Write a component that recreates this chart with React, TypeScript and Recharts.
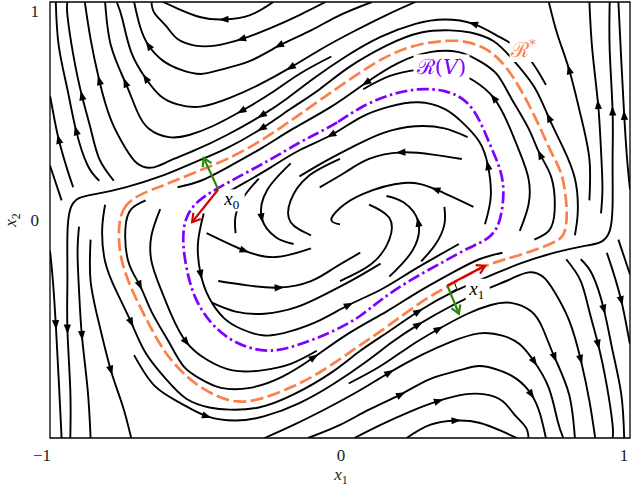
import React from 'react'
import { LineChart, Line, XAxis, YAxis, ReferenceArea, ReferenceDot } from 'recharts'

type Pt = [number, number]

const SERIF = '"Liberation Serif", "DejaVu Serif", serif'
const MATH = '"DejaVu Serif", "Liberation Serif", serif'
const ORANGE = '#fb8049'
const PURPLE = '#8000ff'
const RED = '#d40000'
const GREEN = '#2b8a0e'

const W = 632
const H = 486
const PLOT_W = 580
const PLOT_H = 436

const X_TICKS = [-1, 0, 1]
const Y_TICKS = [0, 1]

// boundary of R* and of the level set R(V)
const R_STAR: Pt[] = [[-0.655,0.138],[-0.748,0.078],[-0.766,-0.032],[-0.759,-0.183],[-0.714,-0.335],[-0.666,-0.459],[-0.621,-0.573],[-0.576,-0.656],[-0.507,-0.748],[-0.424,-0.812],[-0.355,-0.839],[-0.276,-0.826],[-0.162,-0.766],[-0.069,-0.702],[0.045,-0.596],[0.162,-0.491],[0.286,-0.367],[0.369,-0.307],[0.493,-0.211],[0.562,-0.183],[0.655,-0.147],[0.734,-0.106],[0.776,-0.078],[0.786,0.032],[0.769,0.216],[0.734,0.289],[0.690,0.427],[0.631,0.583],[0.576,0.702],[0.517,0.780],[0.448,0.817],[0.390,0.826],[0.276,0.812],[0.162,0.757],[0.045,0.656],[-0.069,0.550],[-0.170,0.455],[-0.266,0.367],[-0.390,0.275],[-0.507,0.216],[-0.621,0.151]]
const R_V: Pt[] = [[-0.069,0.404],[-0.010,0.445],[0.069,0.518],[0.162,0.573],[0.266,0.606],[0.369,0.596],[0.438,0.550],[0.483,0.459],[0.517,0.344],[0.552,0.243],[0.569,0.138],[0.552,-0.032],[0.507,-0.092],[0.448,-0.124],[0.369,-0.183],[0.241,-0.275],[0.138,-0.367],[0.069,-0.445],[0.000,-0.495],[-0.069,-0.537],[-0.162,-0.583],[-0.241,-0.606],[-0.321,-0.587],[-0.390,-0.541],[-0.448,-0.472],[-0.500,-0.367],[-0.528,-0.243],[-0.545,-0.092],[-0.534,0.014],[-0.493,0.092],[-0.390,0.170],[-0.241,0.275],[-0.138,0.358]]

// the two marked states and their vectors
const X0: Pt = [-0.42, 0.14]
const X0_RED: Pt = [-0.51, -0.01]
const X0_GREEN: Pt = [-0.47, 0.285]
const X1: Pt = [0.37, -0.30]
const X1_RED: Pt = [0.50, -0.21]
const X1_GREEN: Pt = [0.41, -0.43]
const X1_CORNER: Pt[] = [[0.393,-0.282],[0.403,-0.316],[0.379,-0.333]]

// label anchors
const LBL_RSTAR: Pt = [0.64, 0.78]
const LBL_RV: Pt = [0.35, 0.70]
const LBL_X0: Pt = [-0.37, 0.09]
const LBL_X1: Pt = [0.475, -0.32]

// streamlines, each listed in the direction of the flow
const A2: Pt[] = [[-0.23,1.0],[-0.31,0.94],[-0.40,0.92],[-0.48,0.93],[-0.56,0.97],[-0.61,1.0]]
const A3: Pt[] = [[-0.05,1.0],[-0.14,0.94],[-0.24,0.88],[-0.34,0.83],[-0.43,0.80],[-0.50,0.80],[-0.56,0.83],[-0.60,0.89],[-0.64,0.95],[-0.65,1.0]]
const A4: Pt[] = [[0.11,1.0],[0,0.94],[-0.10,0.87],[-0.21,0.80],[-0.31,0.73],[-0.41,0.69],[-0.48,0.67],[-0.55,0.69],[-0.61,0.73],[-0.66,0.80],[-0.69,0.89],[-0.71,1.0]]
const A5: Pt[] = [[0.26,1.0],[0.16,0.94],[0.04,0.86],[-0.07,0.78],[-0.17,0.70],[-0.28,0.62],[-0.38,0.56],[-0.48,0.52],[-0.56,0.53],[-0.62,0.57],[-0.67,0.65],[-0.72,0.77],[-0.75,0.92],[-0.77,1.0]]
const A6: Pt[] = [[-0.03,0.75],[-0.14,0.67],[-0.24,0.58],[-0.34,0.50],[-0.44,0.43],[-0.52,0.39],[-0.59,0.38],[-0.66,0.42],[-0.70,0.50],[-0.74,0.63],[-0.79,0.80],[-0.81,1.0]]
const W2: Pt[] = [[0.71,0.62],[0.64,0.76],[0.55,0.84],[0.46,0.90],[0.36,0.92],[0.26,0.90],[0.14,0.84],[0.02,0.75],[-0.09,0.65],[-0.18,0.56],[-0.27,0.48],[-0.39,0.39],[-0.50,0.32],[-0.59,0.27],[-0.65,0.24],[-0.70,0.26],[-0.74,0.33],[-0.79,0.46],[-0.83,0.64],[-0.86,0.83],[-0.88,1.0]]
const W1: Pt[] = [[0.81,-0.07],[0.82,0.04],[0.81,0.19],[0.77,0.33],[0.72,0.47],[0.67,0.61],[0.60,0.73],[0.53,0.82],[0.45,0.86],[0.38,0.87],[0.28,0.86],[0.16,0.80],[0.03,0.70],[-0.07,0.60],[-0.17,0.51],[-0.27,0.42],[-0.39,0.33],[-0.51,0.26],[-0.62,0.20],[-0.74,0.15],[-0.84,0.12],[-0.90,0.10],[-0.93,0.05],[-0.94,-0.07],[-0.94,-0.28],[-0.94,-0.50],[-0.93,-0.78],[-0.93,-1.0]]
const L0: Pt[] = [[-0.78,0.18],[-0.83,0.28],[-0.86,0.42],[-0.89,0.57],[-0.92,0.76],[-0.94,0.94],[-0.94,1.0]]
const L1: Pt[] = [[-0.83,0.18],[-0.87,0.25],[-0.91,0.41],[-0.94,0.60],[-0.97,0.80],[-0.98,1.0]]
const L2: Pt[] = [[-0.92,0.15],[-0.94,0.23],[-0.97,0.37],[-0.99,0.50],[-1.0,0.57]]
const L3: Pt[] = [[-0.96,0.09],[-0.98,0.17],[-1.0,0.25]]
const L4: Pt[] = [[-1.0,-0.14],[-0.99,-0.28],[-0.98,-0.48],[-0.97,-0.73],[-0.96,-1.0]]
const L5: Pt[] = [[-0.90,-0.03],[-0.905,-0.15],[-0.90,-0.32],[-0.89,-0.53],[-0.87,-0.78],[-0.86,-1.0]]
const L6: Pt[] = [[-0.86,-0.09],[-0.86,-0.28],[-0.83,-0.48],[-0.79,-0.69],[-0.75,-0.85],[-0.72,-1.0]]

const A2M: Pt[] = [[0.23,-1.0],[0.31,-0.94],[0.40,-0.92],[0.48,-0.93],[0.56,-0.97],[0.61,-1.0]]
const A3M: Pt[] = [[0.05,-1.0],[0.14,-0.94],[0.24,-0.88],[0.34,-0.83],[0.43,-0.80],[0.50,-0.80],[0.56,-0.83],[0.60,-0.89],[0.64,-0.95],[0.65,-1.0]]
const A4M: Pt[] = [[-0.11,-1.0],[0,-0.94],[0.10,-0.87],[0.21,-0.80],[0.31,-0.73],[0.41,-0.69],[0.48,-0.67],[0.55,-0.69],[0.61,-0.73],[0.66,-0.80],[0.69,-0.89],[0.71,-1.0]]
const A5M: Pt[] = [[-0.26,-1.0],[-0.16,-0.94],[-0.04,-0.86],[0.07,-0.78],[0.17,-0.70],[0.28,-0.62],[0.38,-0.56],[0.48,-0.52],[0.56,-0.53],[0.62,-0.57],[0.67,-0.65],[0.72,-0.77],[0.75,-0.92],[0.77,-1.0]]
const A6M: Pt[] = [[0.03,-0.75],[0.14,-0.67],[0.24,-0.58],[0.34,-0.50],[0.44,-0.43],[0.52,-0.39],[0.59,-0.38],[0.66,-0.42],[0.70,-0.50],[0.74,-0.63],[0.79,-0.80],[0.81,-1.0]]
const W2M: Pt[] = [[-0.71,-0.62],[-0.64,-0.76],[-0.55,-0.84],[-0.46,-0.90],[-0.36,-0.92],[-0.26,-0.90],[-0.14,-0.84],[-0.02,-0.75],[0.09,-0.65],[0.18,-0.56],[0.27,-0.48],[0.39,-0.39],[0.50,-0.32],[0.59,-0.27],[0.65,-0.24],[0.70,-0.26],[0.74,-0.33],[0.79,-0.46],[0.83,-0.64],[0.86,-0.83],[0.88,-1.0]]
const W1M: Pt[] = [[-0.81,0.07],[-0.82,-0.04],[-0.81,-0.19],[-0.77,-0.33],[-0.72,-0.47],[-0.67,-0.61],[-0.60,-0.73],[-0.53,-0.82],[-0.45,-0.86],[-0.38,-0.87],[-0.28,-0.86],[-0.16,-0.80],[-0.03,-0.70],[0.07,-0.60],[0.17,-0.51],[0.27,-0.42],[0.39,-0.33],[0.51,-0.26],[0.62,-0.20],[0.74,-0.15],[0.84,-0.12],[0.90,-0.10],[0.93,-0.05],[0.94,0.07],[0.94,0.28],[0.94,0.50],[0.93,0.78],[0.93,1.0]]
const L0M: Pt[] = [[0.78,-0.18],[0.83,-0.28],[0.86,-0.42],[0.89,-0.57],[0.92,-0.76],[0.94,-0.94],[0.94,-1.0]]
const L1M: Pt[] = [[0.83,-0.18],[0.87,-0.25],[0.91,-0.41],[0.94,-0.60],[0.97,-0.80],[0.98,-1.0]]
const L2M: Pt[] = [[0.92,-0.15],[0.94,-0.23],[0.97,-0.37],[0.99,-0.50],[1.0,-0.57]]
const L3M: Pt[] = [[0.96,-0.09],[0.98,-0.17],[1.0,-0.25]]
const L4M: Pt[] = [[1.0,0.14],[0.99,0.28],[0.98,0.48],[0.97,0.73],[0.96,1.0]]
const L5M: Pt[] = [[0.90,0.03],[0.905,0.15],[0.90,0.32],[0.89,0.53],[0.87,0.78],[0.86,1.0]]
const L6M: Pt[] = [[0.86,0.09],[0.86,0.28],[0.83,0.48],[0.79,0.69],[0.75,0.85],[0.72,1.0]]

// inside R*
const R1: Pt[] = [[0.67,-0.09],[0.72,-0.05],[0.74,0.04],[0.73,0.19],[0.69,0.30],[0.65,0.42],[0.59,0.56],[0.54,0.67],[0.48,0.73],[0.41,0.77],[0.31,0.77],[0.20,0.72],[0.09,0.63],[-0.03,0.52],[-0.16,0.42],[-0.27,0.33],[-0.39,0.24],[-0.48,0.18],[-0.56,0.15]]
const R1M: Pt[] = [[-0.67,0.09],[-0.72,0.05],[-0.74,-0.04],[-0.73,-0.19],[-0.69,-0.30],[-0.65,-0.42],[-0.59,-0.56],[-0.54,-0.67],[-0.48,-0.73],[-0.41,-0.77],[-0.31,-0.77],[-0.20,-0.72],[-0.09,-0.63],[0.03,-0.52],[0.16,-0.42],[0.27,-0.33],[0.39,-0.24],[0.48,-0.18],[0.56,-0.15]]
const R2: Pt[] = [[0.62,-0.05],[0.65,0.07],[0.65,0.19],[0.62,0.31],[0.58,0.44],[0.53,0.56],[0.46,0.64],[0.37,0.69],[0.27,0.69],[0.17,0.66],[0.08,0.60]]
const R2M: Pt[] = [[-0.62,0.05],[-0.65,-0.07],[-0.65,-0.19],[-0.62,-0.31],[-0.58,-0.44],[-0.53,-0.56],[-0.46,-0.64],[-0.37,-0.69],[-0.27,-0.69],[-0.17,-0.66],[-0.08,-0.60]]
const P1: Pt[] = [[0.50,-0.02],[0.52,0.11],[0.51,0.25],[0.48,0.36],[0.42,0.45],[0.36,0.51],[0.27,0.54],[0.17,0.52],[0.07,0.47],[-0.03,0.39],[-0.14,0.32],[-0.24,0.24],[-0.33,0.17],[-0.41,0.11]]
const P1M: Pt[] = [[-0.47,0.03],[-0.49,-0.11],[-0.48,-0.25],[-0.45,-0.36],[-0.40,-0.45],[-0.34,-0.50],[-0.26,-0.53],[-0.17,-0.51],[-0.07,-0.46],[0.03,-0.39],[0.14,-0.32],[0.24,-0.24],[0.33,-0.17],[0.41,-0.11]]
// spiral arms round the origin
const HOOK_R: Pt[] = [[0.46,0.06],[0.33,0.14],[0.22,0.17],[0.08,0.12],[0.0,0.055],[-0.03,0.0],[0.0,-0.02]]
const HOOK_L: Pt[] = [[-0.46,-0.06],[-0.33,-0.14],[-0.22,-0.17],[-0.10,-0.13]]
const E_R: Pt[] = [[0.0,-0.28],[0.11,-0.20],[0.17,-0.09],[0.17,0.01],[0.10,0.07]]
const E_L: Pt[] = [[0.0,0.28],[-0.11,0.20],[-0.17,0.09],[-0.17,-0.01],[-0.10,-0.07]]
const F_R: Pt[] = [[0.17,-0.26],[0.25,-0.14],[0.27,-0.01],[0.22,0.08],[0.16,0.11]]
const F_L: Pt[] = [[-0.17,0.26],[-0.25,0.14],[-0.27,0.01],[-0.22,-0.08],[-0.16,-0.11]]
const G_R: Pt[] = [[0.28,-0.19],[0.33,-0.11],[0.36,-0.02],[0.36,0.06]]
const G_L: Pt[] = [[-0.28,0.19],[-0.33,0.11],[-0.36,0.02],[-0.36,-0.06]]
const HUMP_R: Pt[] = [[0.42,0.28],[0.32,0.30],[0.21,0.31],[0.10,0.28],[0.02,0.22],[-0.07,0.15]]
const HUMP_L: Pt[] = [[-0.42,-0.28],[-0.32,-0.30],[-0.21,-0.31],[-0.10,-0.28],[-0.02,-0.22],[0.07,-0.15]]
const ARC_R: Pt[] = [[0.44,0.38],[0.36,0.42],[0.26,0.43],[0.15,0.40],[0.05,0.34],[-0.05,0.27],[-0.14,0.20]]
const ARC_L: Pt[] = [[-0.44,-0.38],[-0.36,-0.42],[-0.26,-0.43],[-0.15,-0.40],[-0.05,-0.34],[0.05,-0.27],[0.14,-0.20]]

// which points carry an arrowhead
const STREAMS: { pts: Pt[]; arrows: number[] }[] = [
  { pts: A2, arrows: [2] }, { pts: A3, arrows: [3] }, { pts: A4, arrows: [3, 9] },
  { pts: A5, arrows: [4, 10] }, { pts: A6, arrows: [3, 9] }, { pts: W2, arrows: [3, 10, 18] },
  { pts: W1, arrows: [4, 15, 25] }, { pts: L0, arrows: [3] }, { pts: L1, arrows: [2] },
  { pts: L2, arrows: [2] }, { pts: L3, arrows: [] }, { pts: L4, arrows: [2] },
  { pts: L5, arrows: [3] }, { pts: L6, arrows: [3] },
  { pts: A2M, arrows: [2] }, { pts: A3M, arrows: [3] }, { pts: A4M, arrows: [3, 9] },
  { pts: A5M, arrows: [4, 10] }, { pts: A6M, arrows: [3, 9] }, { pts: W2M, arrows: [3, 10, 18] },
  { pts: W1M, arrows: [4, 15, 25] }, { pts: L0M, arrows: [3] }, { pts: L1M, arrows: [2] },
  { pts: L2M, arrows: [2] }, { pts: L3M, arrows: [] }, { pts: L4M, arrows: [2] },
  { pts: L5M, arrows: [3] }, { pts: L6M, arrows: [3] },
  { pts: R1, arrows: [4, 12] }, { pts: R1M, arrows: [4, 12] }, { pts: R2, arrows: [5] }, { pts: R2M, arrows: [5] },
  { pts: P1, arrows: [2, 9] }, { pts: P1M, arrows: [2, 9] },
  { pts: HOOK_R, arrows: [1] }, { pts: HOOK_L, arrows: [1] },
  { pts: E_R, arrows: [] }, { pts: E_L, arrows: [] },
  { pts: F_R, arrows: [2] }, { pts: F_L, arrows: [2] },
  { pts: G_R, arrows: [] }, { pts: G_L, arrows: [] },
  { pts: HUMP_R, arrows: [2] }, { pts: HUMP_L, arrows: [2] },
  { pts: ARC_R, arrows: [] }, { pts: ARC_L, arrows: [] },
]

const toRows = (pts: Pt[]) => pts.map(([x, y]) => ({ x, y }))

// pixel direction of a step in data space
const pxAngle = (a: Pt, b: Pt) =>
  (Math.atan2(-(b[1] - a[1]) * (PLOT_H / 2), (b[0] - a[0]) * (PLOT_W / 2)) * 180) / Math.PI

function flowArrow(pts: Pt[], arrows: number[]) {
  return (p: any) => {
    const i = p.index
    if (!arrows.includes(i) || p.cx == null) return <g key={`n${i}`} />
    const ang = pxAngle(pts[Math.max(i - 1, 0)], pts[Math.min(i + 1, pts.length - 1)])
    return (
      <path key={`a${i}`} d="M5,0L-4.5,-3.6L-4.5,3.6Z" fill="#000"
        transform={`translate(${p.cx},${p.cy}) rotate(${ang})`} />
    )
  }
}

function vecHead(from: Pt, to: Pt, color: string) {
  return (p: any) => {
    if (p.index !== 1 || p.cx == null) return <g key={`n${p.index}`} />
    return (
      <path key="h" d="M-8,-4.8L0,0L-8,4.8" fill="none" stroke={color} strokeWidth={2.2}
        transform={`translate(${p.cx},${p.cy}) rotate(${pxAngle(from, to)})`} />
    )
  }
}

const XTick = (p: any) => {
  const v = p.payload.value
  const dx = v < 0 ? -8 : v > 0 ? -4 : 1
  return (
    <text x={p.x + dx} y={p.y + 9} textAnchor="middle" dominantBaseline="central"
      fontFamily={SERIF} fontSize={17} fill="#222">
      {v < 0 ? '\u2212' + Math.abs(v) : String(v)}
    </text>
  )
}

const YTick = (p: any) => (
  <text x={p.x - 3} y={Math.max(p.y, 11)} textAnchor="end" dominantBaseline="central"
    fontFamily={SERIF} fontSize={17} fill="#222">
    {String(p.payload.value)}
  </text>
)

const MathLabel = (sub: string) => (p: any) => (
  <g transform={`translate(${p.cx},${p.cy})`}>
    <rect x={-12} y={-11} width={24} height={22} fill="#fff" />
    <text x={-1} y={5} textAnchor="middle" fontFamily={SERIF} fontSize={19} fill="#000">
      <tspan fontStyle="italic">x</tspan>
      <tspan fontSize={13} dy={4}>{sub}</tspan>
    </text>
  </g>
)

const RStarLabel = (p: any) => (
  <g transform={`translate(${p.cx},${p.cy})`}>
    <rect x={-16} y={-12} width={32} height={24} fill="#fff" />
    <text x={-2} y={7} textAnchor="middle" fontFamily={MATH} fontSize={21} fill={ORANGE}>
      {'\u211B'}
      <tspan dy={-8} fontSize={13}>*</tspan>
    </text>
  </g>
)

const RVLabel = (p: any) => (
  <g transform={`translate(${p.cx},${p.cy})`}>
    <rect x={-28} y={-13} width={56} height={26} fill="#fff" />
    <text x={0} y={7} textAnchor="middle" fontFamily={MATH} fontSize={21} fill={PURPLE}>
      {'\u211B'}
      <tspan>(</tspan>
      <tspan fontStyle="italic">V</tspan>
      <tspan>)</tspan>
    </text>
  </g>
)

const XAxisTitle = (p: any) => (
  <text x={p.cx + 1} y={p.cy + 42} textAnchor="middle" fontFamily={SERIF} fontSize={17} fill="#222">
    <tspan fontStyle="italic">x</tspan>
    <tspan fontSize={12} dy={4}>1</tspan>
  </text>
)

const YAxisTitle = (p: any) => (
  <g transform={`translate(${p.cx - 34},${p.cy}) rotate(-90)`}>
    <text x={0} y={0} textAnchor="middle" fontFamily={SERIF} fontSize={17} fill="#222">
      <tspan fontStyle="italic">x</tspan>
      <tspan fontSize={12} dy={4}>2</tspan>
    </text>
  </g>
)

export default function App() {
  return (
    <div style={{ position: 'absolute', left: 0, top: 0, background: '#fff' }}>
      <LineChart width={W} height={H} margin={{ top: 2, right: 2, bottom: 0, left: 0 }}>
        <XAxis type="number" dataKey="x" domain={[-1, 1]} ticks={X_TICKS} allowDataOverflow
          axisLine={false} tickLine={false} height={48} tick={XTick} />
        <YAxis type="number" domain={[-1, 1]} ticks={Y_TICKS} allowDataOverflow
          axisLine={false} tickLine={false} width={50} tick={YTick} />
        {STREAMS.map((s, i) => (
          <Line key={`s${i}`} data={toRows(s.pts)} dataKey="y" type="natural" stroke="#000"
            strokeWidth={1.9} dot={flowArrow(s.pts, s.arrows)} activeDot={false}
            isAnimationActive={false} legendType="none" />
        ))}
        <Line data={toRows(R_STAR)} dataKey="y" type="basisClosed" stroke={ORANGE} strokeWidth={2.7}
          strokeDasharray="13 4.5" dot={false} activeDot={false} isAnimationActive={false} />
        <Line data={toRows(R_V)} dataKey="y" type="basisClosed" stroke={PURPLE} strokeWidth={2.7}
          strokeDasharray="12 3.5 2.5 3.5" dot={false} activeDot={false} isAnimationActive={false} />
        <Line data={toRows(X1_CORNER)} dataKey="y" type="linear" stroke="#000" strokeWidth={1}
          dot={false} activeDot={false} isAnimationActive={false} />
        <Line data={toRows([X0, X0_GREEN])} dataKey="y" type="linear" stroke={GREEN} strokeWidth={2.2}
          dot={vecHead(X0, X0_GREEN, GREEN)} activeDot={false} isAnimationActive={false} />
        <Line data={toRows([X0, X0_RED])} dataKey="y" type="linear" stroke={RED} strokeWidth={2.2}
          dot={vecHead(X0, X0_RED, RED)} activeDot={false} isAnimationActive={false} />
        <Line data={toRows([X1, X1_GREEN])} dataKey="y" type="linear" stroke={GREEN} strokeWidth={2.2}
          dot={vecHead(X1, X1_GREEN, GREEN)} activeDot={false} isAnimationActive={false} />
        <Line data={toRows([X1, X1_RED])} dataKey="y" type="linear" stroke={RED} strokeWidth={2.2}
          dot={vecHead(X1, X1_RED, RED)} activeDot={false} isAnimationActive={false} />
        <ReferenceArea x1={-1} x2={1} y1={-1} y2={1} fill="none" stroke="#000" strokeWidth={1.3}
          ifOverflow="visible" />
        <ReferenceDot x={LBL_RSTAR[0]} y={LBL_RSTAR[1]} r={0} ifOverflow="visible" shape={RStarLabel} />
        <ReferenceDot x={LBL_RV[0]} y={LBL_RV[1]} r={0} ifOverflow="visible" shape={RVLabel} />
        <ReferenceDot x={LBL_X0[0]} y={LBL_X0[1]} r={0} ifOverflow="visible" shape={MathLabel('0')} />
        <ReferenceDot x={LBL_X1[0]} y={LBL_X1[1]} r={0} ifOverflow="visible" shape={MathLabel('1')} />
        <ReferenceDot x={0} y={-1} r={0} ifOverflow="visible" shape={XAxisTitle} />
        <ReferenceDot x={-1} y={0} r={0} ifOverflow="visible" shape={YAxisTitle} />
      </LineChart>
    </div>
  )
}
